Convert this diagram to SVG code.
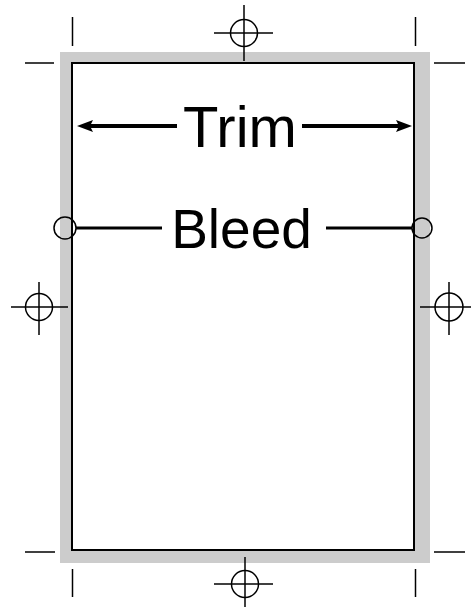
<svg xmlns="http://www.w3.org/2000/svg" width="471" height="607" viewBox="0 0 471 607">
<style>
.crop{stroke:#000;stroke-width:1.5;fill:none}
.reg{stroke:#000;stroke-width:1.5;fill:none}
.lbl{font-family:"Liberation Sans",Arial,sans-serif;fill:#000}
.head{fill:#000}
</style>
<rect width="471" height="607" fill="#fff"/>
<g id="bleed-area">
<rect x="60" y="52" width="370" height="511" fill="#cccccc"/>
</g>
<g id="trim-area">
<rect x="72" y="63" width="342" height="487" fill="#fff" stroke="#000" stroke-width="2"/>
</g>
<g id="crop-marks">
<line class="crop" x1="72.5" y1="17" x2="72.5" y2="46"/>
<line class="crop" x1="25" y1="63" x2="54" y2="63"/>
<line class="crop" x1="415.5" y1="17" x2="415.5" y2="46"/>
<line class="crop" x1="434" y1="63" x2="465" y2="63"/>
<line class="crop" x1="25" y1="552" x2="55" y2="552"/>
<line class="crop" x1="434" y1="552" x2="465" y2="552"/>
<line class="crop" x1="72.5" y1="569" x2="72.5" y2="597"/>
<line class="crop" x1="415.5" y1="569" x2="415.5" y2="597"/>
</g>
<g id="reg-top">
<circle cx="244" cy="33" r="13.5" class="reg"/>
<line class="reg" x1="214" y1="33" x2="273" y2="33"/>
<line class="reg" x1="244" y1="5" x2="244" y2="61"/>
</g>
<g id="reg-left">
<circle cx="39" cy="307" r="13.5" class="reg"/>
<line class="reg" x1="11" y1="307" x2="68" y2="307"/>
<line class="reg" x1="39" y1="282" x2="39" y2="335"/>
</g>
<g id="reg-right">
<circle cx="449" cy="307" r="14" class="reg"/>
<line class="reg" x1="420" y1="307" x2="471" y2="307"/>
<line class="reg" x1="449" y1="282" x2="449" y2="335"/>
</g>
<g id="reg-bottom">
<circle cx="245" cy="584" r="13.5" class="reg"/>
<line class="reg" x1="214" y1="584" x2="273" y2="584"/>
<line class="reg" x1="245" y1="557" x2="245" y2="607"/>
</g>
<g id="connectors">
<line x1="177" y1="126" x2="86" y2="126" stroke="#000" stroke-width="4"/>
<path class="head" d="M77,126 L93,120 L90,126 L93,132 Z"/>
<line x1="302" y1="126" x2="403" y2="126" stroke="#000" stroke-width="4"/>
<path class="head" d="M412,126 L396,120 L399,126 L396,132 Z"/>
<line x1="76" y1="228" x2="162" y2="228" stroke="#000" stroke-width="3"/>
<line x1="326" y1="228" x2="412" y2="228" stroke="#000" stroke-width="3"/>
</g>
<g id="bleed-dots">
<circle cx="65" cy="228" r="11" fill="none" stroke="#000" stroke-width="1.5"/>
<circle cx="422" cy="228" r="10" fill="none" stroke="#000" stroke-width="1.5"/>
</g>
<g id="label-trim">
<text class="lbl" x="240" y="147" font-size="58" text-anchor="middle">Trim</text>
</g>
<g id="label-bleed">
<text class="lbl" x="241.5" y="248" font-size="55" text-anchor="middle">Bleed</text>
</g>
</svg>
